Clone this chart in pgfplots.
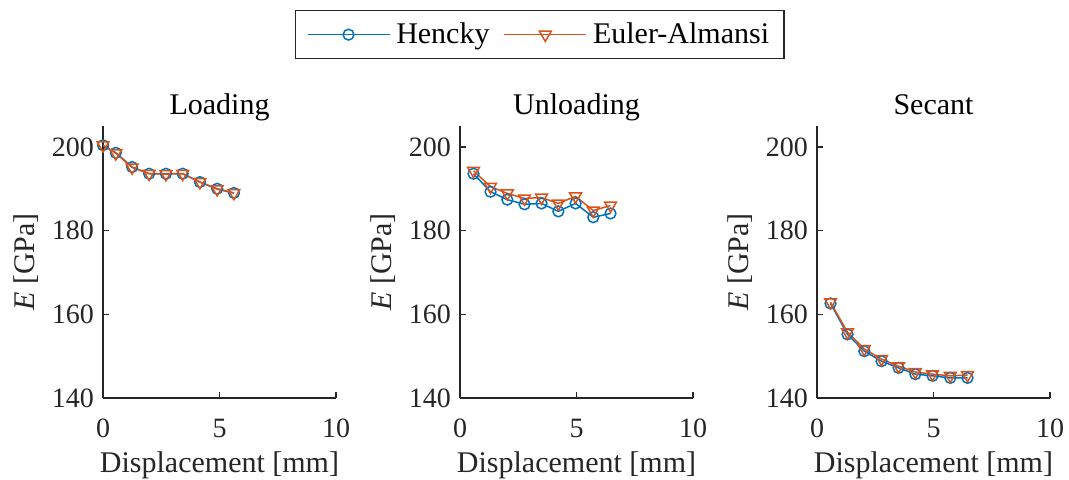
\documentclass[border=0pt]{standalone}
\usepackage{fontspec}
\setmainfont{Liberation Serif}
\usepackage{pgfplots}
\pgfplotsset{compat=1.18}

\definecolor{mblue}{rgb}{0,0.447,0.741}
\definecolor{morange}{rgb}{0.85,0.325,0.098}
\definecolor{axgray}{rgb}{0.15,0.15,0.15}

\pgfplotsset{
  panel/.style={
    scale only axis, width=116.5pt, height=136pt, anchor=south west,
    xmin=0, xmax=10, ymin=140, ymax=205,
    xtick={0,5,10}, ytick={140,160,180,200},
    axis x line*=bottom, axis y line*=left,
    axis line style={axgray, line width=0.6pt, -},
    tick align=inside, major tick length=3pt,
    tick style={axgray, line width=0.6pt},
    ticklabel style={font=\fontsize{14}{16}\selectfont, text=axgray},
    xticklabel style={yshift=-7pt},
    yticklabel style={xshift=-1pt},
    label style={font=\fontsize{15}{17}\selectfont, text=axgray},
    xlabel style={at={(0.5,0)}, anchor=base, yshift=-37pt},
    title style={font=\fontsize{15}{17}\selectfont, text=black,
      at={(0.5,1)}, anchor=base, yshift=0pt},
    xlabel={Displacement [mm]}, ylabel={\textit{E} [GPa]},
    /pgf/number format/assume math mode=true,
  },
  hencky/.style={mblue, line width=0.75pt, mark=o, mark size=2.7pt, mark options={solid}},
  euler/.style={morange, line width=0.75pt, mark=triangle, mark size=3.4pt, mark options={solid, rotate=180}},
}

\begin{document}
\begin{tikzpicture}
\useasboundingbox (0,0) rectangle (534.5pt,239.5pt);

% Loading
\begin{axis}[panel, at={(51.5pt,40.5pt)}, title={Loading}]
\addplot[hencky] coordinates {(0,200.4) (0.55,198.6) (1.25,195.2) (1.98,193.6) (2.7,193.6) (3.42,193.6) (4.16,191.6) (4.9,190.0) (5.62,189.0)};
\addplot[euler] coordinates {(0,200.4) (0.55,198.5) (1.25,195.1) (1.98,193.6) (2.7,193.5) (3.42,193.6) (4.16,191.6) (4.9,189.9) (5.62,189.0)};
\end{axis}

% Unloading
\begin{axis}[panel, at={(230pt,40.5pt)}, title={Unloading},
  legend columns=2,
  legend style={at={(0.343,1.426)}, anchor=north, draw=axgray, line width=0.6pt,
    font=\fontsize{15}{17}\selectfont, inner xsep=5.5pt, inner ysep=4pt,
    /tikz/every odd column/.append style={column sep=1pt},
    /tikz/every even column/.append style={column sep=5pt}},
  legend image code/.code={\draw[mark repeat=2, mark phase=2] plot coordinates {(0pt,0pt) (20.5pt,0pt) (41pt,0pt)};},
]
\addplot[hencky] coordinates {(0.58,193.6) (1.31,189.3) (2.03,187.4) (2.77,186.3) (3.5,186.5) (4.22,184.6) (4.96,186.5) (5.72,183.2) (6.46,184.1)};
\addplot[euler] coordinates {(0.58,194.3) (1.31,190.5) (2.03,188.9) (2.77,187.7) (3.5,187.9) (4.22,186.5) (4.96,188.2) (5.72,184.8) (6.46,186.0)};
\legend{Hencky, Euler-Almansi}
\end{axis}

% Secant
\begin{axis}[panel, at={(408.5pt,40.5pt)}, title={Secant}]
\addplot[hencky] coordinates {(0.58,162.6) (1.31,155.2) (2.03,151.2) (2.77,148.8) (3.5,147.2) (4.22,145.7) (4.96,145.3) (5.72,144.8) (6.46,144.8)};
\addplot[euler] coordinates {(0.58,162.9) (1.31,155.7) (2.03,151.7) (2.77,149.3) (3.5,147.6) (4.22,146.2) (4.96,145.7) (5.72,145.3) (6.46,145.5)};
\end{axis}
\end{tikzpicture}
\end{document}
